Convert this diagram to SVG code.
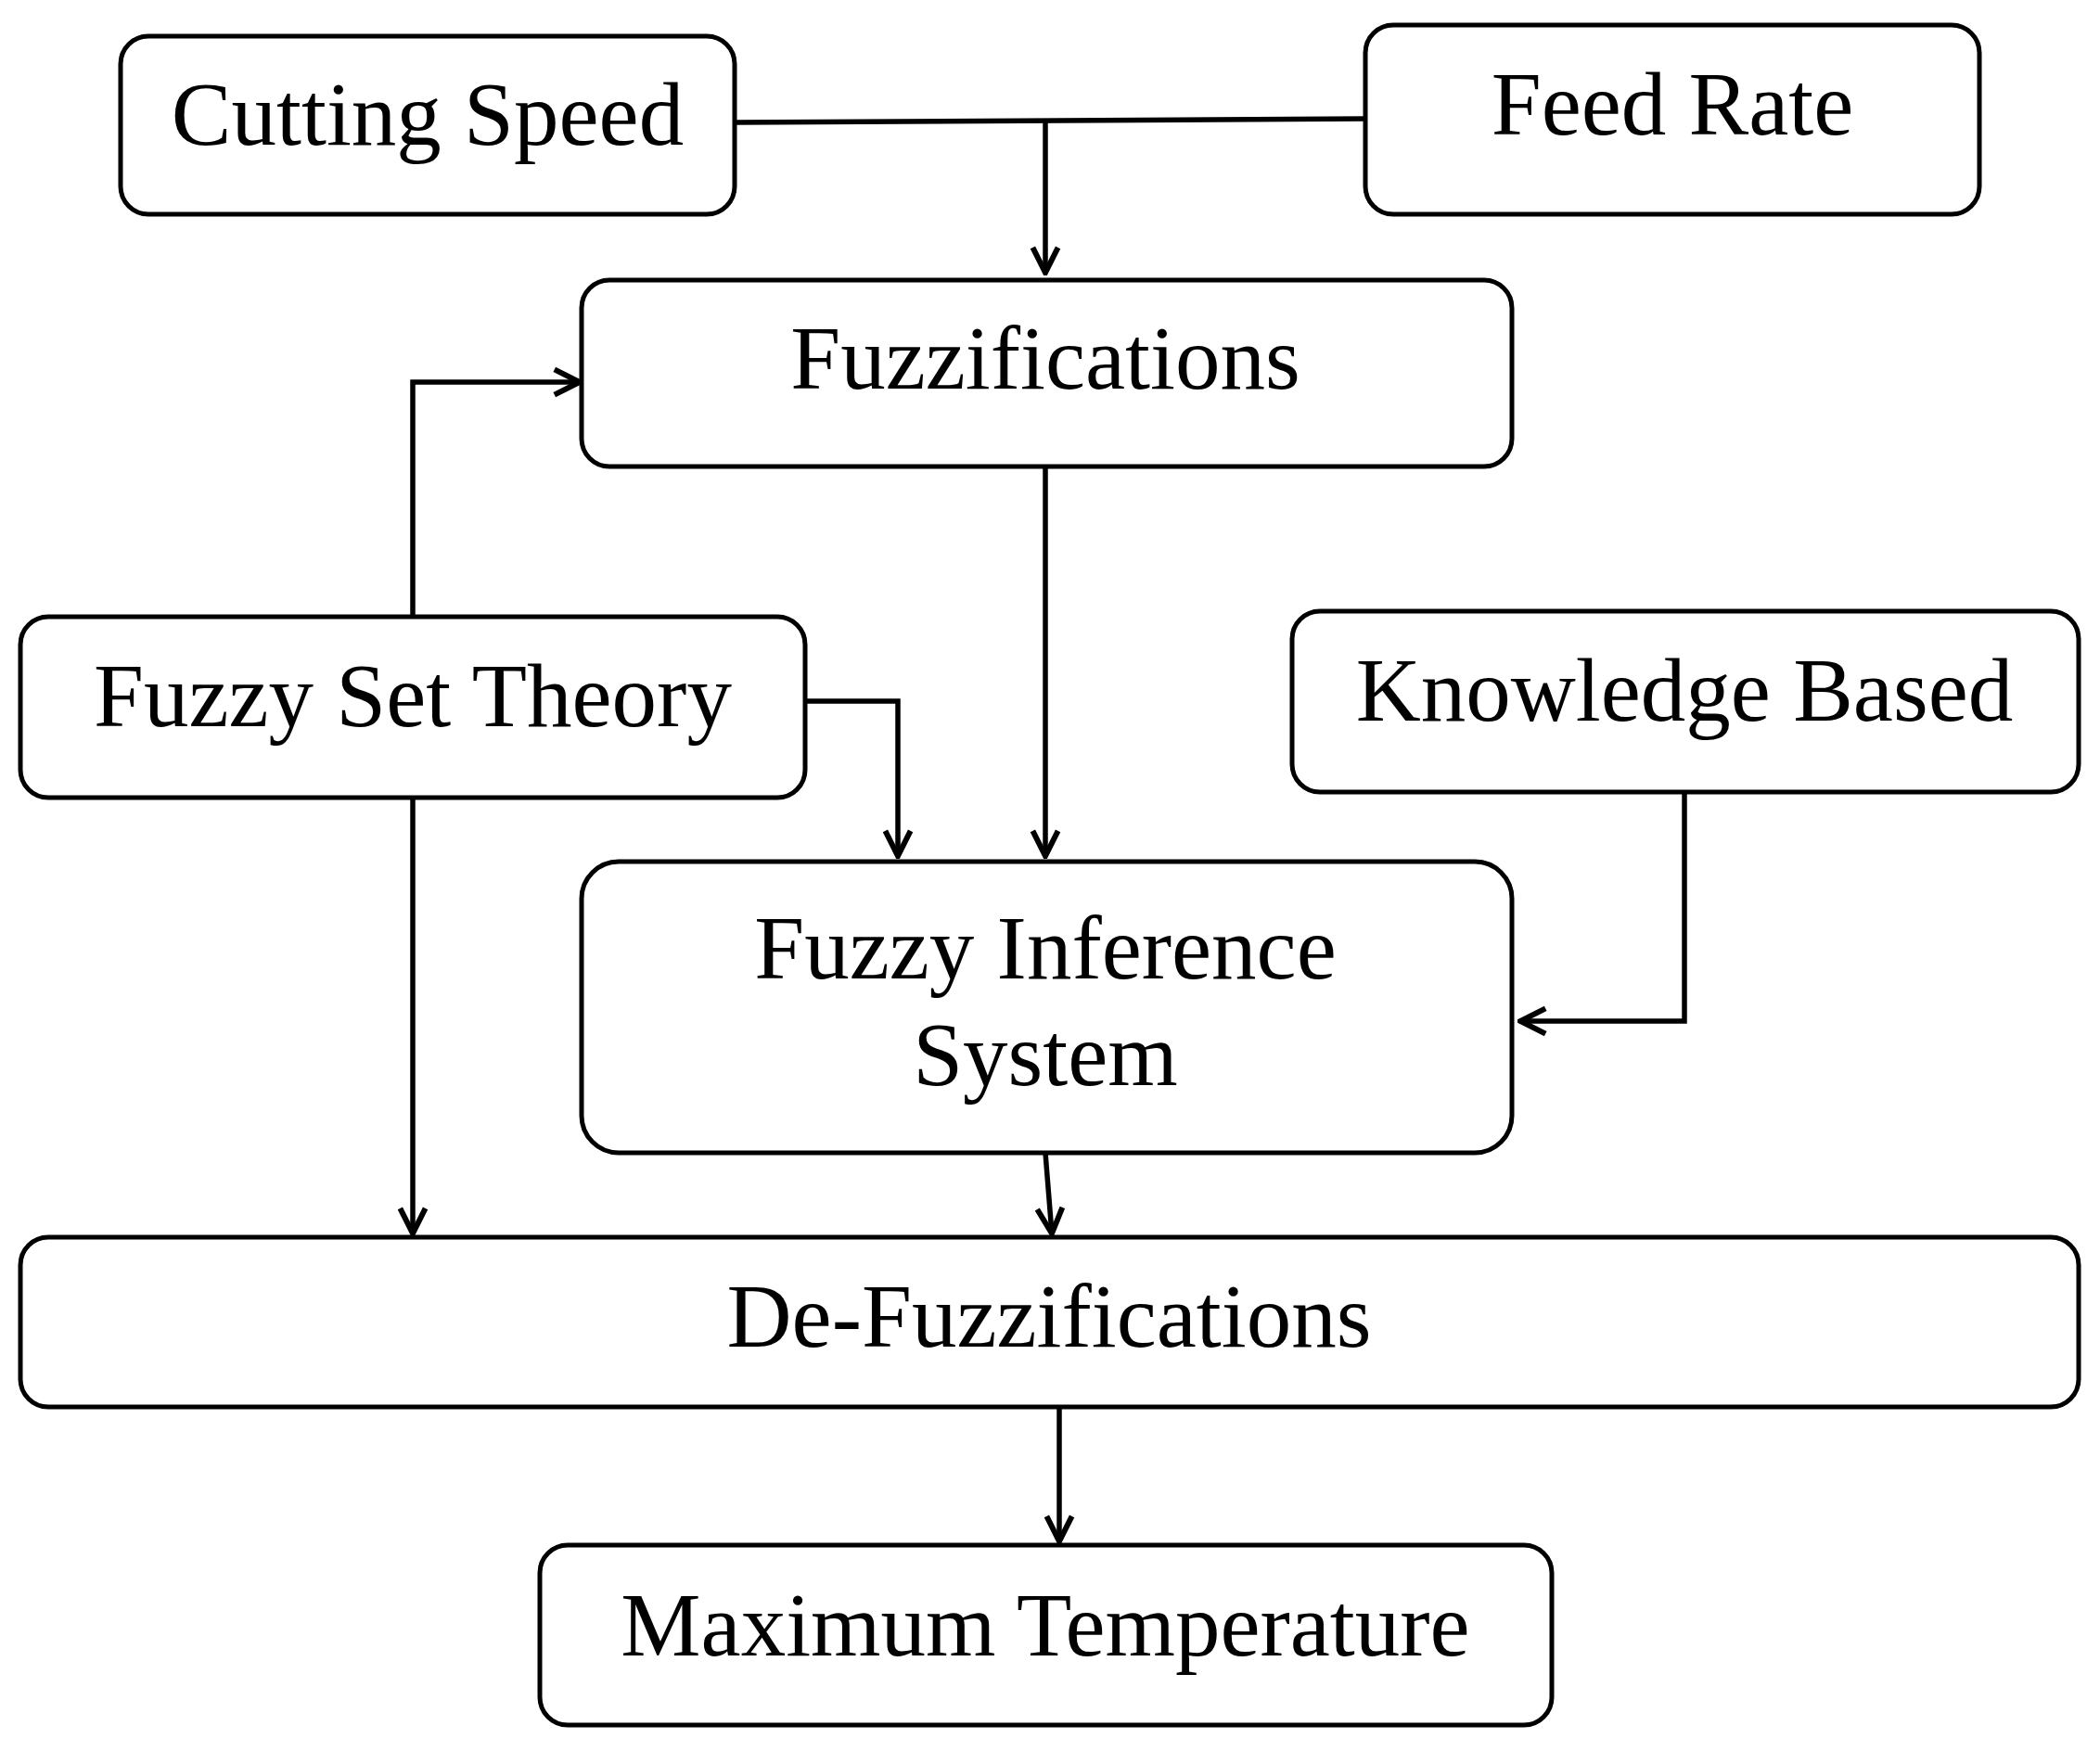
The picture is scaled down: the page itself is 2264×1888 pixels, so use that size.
<svg xmlns="http://www.w3.org/2000/svg" width="2264" height="1888" viewBox="0 0 2264 1888">
<style>
.b{fill:#fff;stroke:#000;stroke-width:5}
.t{font-family:"Liberation Serif",serif;font-size:97px;text-anchor:middle;fill:#000}
.c{fill:none;stroke:#000;stroke-width:5.5}
</style>
<defs>
<marker id="h" viewBox="0 0 20 20" refX="18" refY="10" markerWidth="34" markerHeight="34" markerUnits="userSpaceOnUse" orient="auto"><path d="M2,2 L18,10 L2,18" fill="none" stroke="#000" stroke-width="3.5"/></marker></defs>
<rect width="2264" height="1888" fill="#fff"/>
<g id="connectors">
<path class="c" d="M792,132 L1472,128"/>
<path class="c" d="M1127,131 L1127,294" marker-end="url(#h)"/>
<path class="c" d="M445,665 L445,412 L625,412" marker-end="url(#h)"/>
<path class="c" d="M868,756 L968,756 L968,923" marker-end="url(#h)"/>
<path class="c" d="M1127,503 L1127,923" marker-end="url(#h)"/>
<path class="c" d="M1816,854 L1816,1101 L1639,1101" marker-end="url(#h)"/>
<path class="c" d="M1127,1243 L1134,1330" marker-end="url(#h)"/>
<path class="c" d="M445,860 L445,1330" marker-end="url(#h)"/>
<path class="c" d="M1142,1517 L1142,1662" marker-end="url(#h)"/>
</g>
<g id="cutting"><rect class="b" x="130" y="39" width="662" height="192" rx="30"/><text class="t" x="461" y="156">Cutting Speed</text></g>
<g id="feed"><rect class="b" x="1472" y="27" width="662" height="204" rx="30"/><text class="t" x="1803" y="145">Feed Rate</text></g>
<g id="fuzz"><rect class="b" x="627" y="302" width="1003" height="201" rx="30"/><text class="t" x="1127" y="419">Fuzzifications</text></g>
<g id="fst"><rect class="b" x="22" y="665" width="846" height="195" rx="30"/><text class="t" x="445" y="783">Fuzzy Set Theory</text></g>
<g id="kb"><rect class="b" x="1393" y="659" width="848" height="195" rx="30"/><text class="t" x="1816" y="777">Knowledge Based</text></g>
<g id="fis"><rect class="b" x="627" y="929" width="1003" height="314" rx="40"/><text class="t" x="1127" y="1055">Fuzzy Inference</text><text class="t" x="1127" y="1170">System</text></g>
<g id="defuzz"><rect class="b" x="22" y="1334" width="2219" height="183" rx="30"/><text class="t" x="1131" y="1452">De-Fuzzifications</text></g>
<g id="maxt"><rect class="b" x="582" y="1666" width="1091" height="194" rx="30"/><text class="t" x="1127" y="1785">Maximum Temperature</text></g>
</svg>
